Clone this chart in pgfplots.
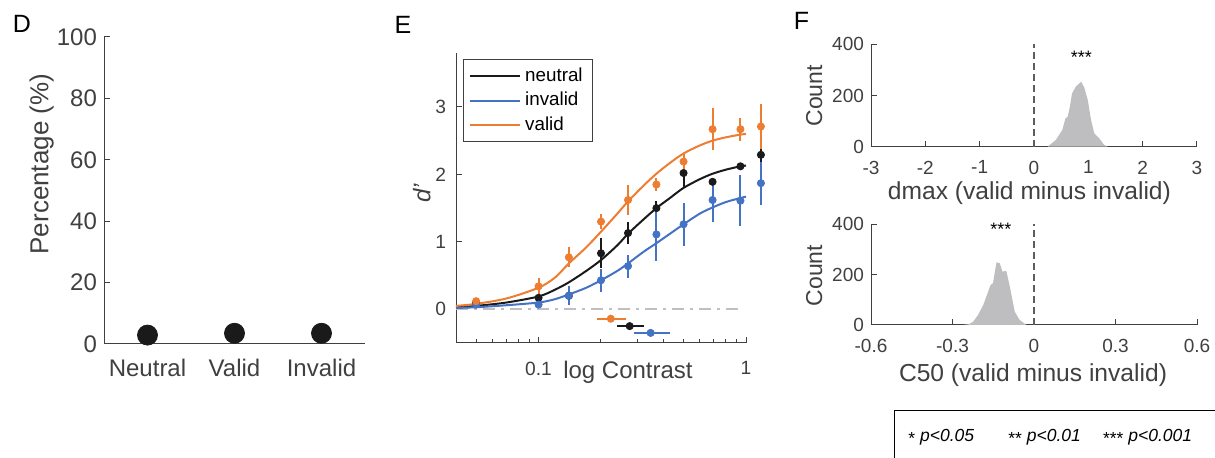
\documentclass[border=0pt]{standalone}
\usepackage{fontspec}
\setmainfont{Liberation Sans}
\usepackage{pgfplots}
\pgfplotsset{compat=1.18}

\definecolor{cvalid}{RGB}{237,125,49}
\definecolor{cinvalid}{RGB}{68,114,196}
\definecolor{cneutral}{RGB}{26,26,26}
\definecolor{histgray}{RGB}{190,190,192}
\definecolor{axgray}{RGB}{64,64,64}

\pgfplotsset{
  matlab/.style={
    scale only axis,
    axis lines*=left,
    axis line style={-, axgray, line width=0.5pt},
    every tick/.style={axgray, line width=0.5pt},
    tick align=inside,
    major tick length=3pt,
    minor tick length=1.8pt,
    ticklabel style={text=axgray},
    label style={text=axgray},
    /pgf/number format/assume math mode=true,
    clip=false,
  },
}

\begin{document}
\begin{tikzpicture}
\path[use as bounding box] (0,0) rectangle (607.5pt,-229pt);

% panel letters
\node[font=\fontsize{12.5}{14}\selectfont] at (11pt,-12pt) {D};
\node[font=\fontsize{12.5}{14}\selectfont] at (201.5pt,-12.5pt) {E};
\node[font=\fontsize{12.5}{14}\selectfont] at (400.75pt,-10.5pt) {F};

% ---------- D ----------
\begin{axis}[matlab,
  at={(52pt,-172pt)}, anchor=south west,
  width=130.5pt, height=153.5pt,
  xmin=0.5, xmax=3.5, ymin=0, ymax=100,
  xtick={1,2,3}, xticklabels={Neutral,Valid,Invalid},
  ytick={0,20,...,100},
  ticklabel style={font=\fontsize{12}{14}\selectfont},
  xticklabel style={yshift=-4pt},
  ylabel={Percentage (\%)},
  ylabel style={font=\fontsize{13}{15}\selectfont, at={(axis description cs:-0.239,0.586)}, anchor=center},
]
\addplot[only marks, mark=*, mark size=5pt, cneutral] coordinates {(1,2.9) (2,3.5) (3,3.5)};
\end{axis}

% ---------- E ----------
\begin{axis}[matlab,
  at={(228pt,-171.5pt)}, anchor=south west,
  width=145pt, height=145pt,
  xmode=log, xmin=0.04, xmax=1, ymin=-0.5, ymax=3.8,
  xtick={0.1,1}, xticklabels={0.1,1},
  minor xtick={0.04,0.05,0.06,0.07,0.08,0.09,0.2,0.3,0.4,0.5,0.6,0.7,0.8,0.9},
  ytick={0,1,2,3},
  ticklabel style={font=\fontsize{9.6}{11}\selectfont},
  xticklabel style={yshift=-5.8pt},
  yticklabel style={xshift=-1.5pt},
  xlabel={log Contrast},
  xlabel style={font=\fontsize{12}{14}\selectfont, at={(axis description cs:0.593,0)}, anchor=base, yshift=-17.7pt},
  ylabel={\textit{d’}},
  ylabel style={font=\fontsize{12}{14}\selectfont, at={(axis description cs:-0.118,0.517)}, anchor=center},
  legend style={at={(0.023,0.979)}, anchor=north west, draw=axgray, line width=0.5pt,
    font=\fontsize{9.4}{11.7}\selectfont, inner xsep=3pt, inner ysep=2pt,
    cells={anchor=west}},
  legend image code/.code={\draw[#1, line width=1pt] (0pt,0pt) -- (25pt,0pt);},
]
\addplot[gray!50, line width=0.8pt, dash pattern=on 6pt off 3pt on 1.5pt off 3pt, forget plot]
  coordinates {(0.04,0) (0.94,0)};

% fitted curves
\addplot[cneutral, line width=1pt, smooth] coordinates {
 (0.04,0.03) (0.05,0.05) (0.07,0.10) (0.1,0.19) (0.12,0.29) (0.14,0.40) (0.17,0.57)
 (0.2,0.73) (0.24,0.95) (0.27,1.12) (0.32,1.33) (0.37,1.50) (0.43,1.65) (0.5,1.80)
 (0.6,1.93) (0.69,2.01) (0.8,2.07) (0.94,2.12) (1,2.13)};
\addlegendentry{neutral}
\addplot[cinvalid, line width=1pt, smooth] coordinates {
 (0.04,0.02) (0.05,0.03) (0.07,0.06) (0.1,0.10) (0.12,0.15) (0.14,0.22) (0.17,0.32)
 (0.2,0.43) (0.24,0.57) (0.27,0.68) (0.32,0.85) (0.37,0.98) (0.43,1.12) (0.5,1.26)
 (0.6,1.42) (0.69,1.51) (0.8,1.59) (0.94,1.65) (1,1.67)};
\addlegendentry{invalid}
\addplot[cvalid, line width=1pt, smooth] coordinates {
 (0.04,0.05) (0.05,0.08) (0.07,0.16) (0.1,0.32) (0.12,0.47) (0.14,0.68) (0.17,0.92)
 (0.2,1.15) (0.24,1.42) (0.27,1.60) (0.32,1.83) (0.37,2.01) (0.43,2.17) (0.5,2.31)
 (0.6,2.43) (0.69,2.50) (0.8,2.55) (0.94,2.59) (1,2.60)};
\addlegendentry{valid}

% data points with error bars
\addplot[forget plot, only marks, mark=*, mark size=1.8pt, cneutral,
  error bars/.cd, y dir=both, y explicit, error mark=none,
  error bar style={line width=1pt, cneutral}] coordinates {
 (0.05,0.10) +- (0,0.02) (0.1,0.17) +- (0,0.04) (0.14,0.20) +- (0,0.05)
 (0.2,0.83) +- (0,0.22) (0.27,1.13) +- (0,0.16) (0.37,1.50) +- (0,0.11)
 (0.5,2.02) +- (0,0.20) (0.69,1.89) +- (0,0.05) (0.94,2.12) +- (0,0.03)
 (1.18,2.29) +- (0,0.16)};
\addplot[forget plot, only marks, mark=*, mark size=1.8pt, cinvalid,
  error bars/.cd, y dir=both, y explicit, error mark=none,
  error bar style={line width=1pt, cinvalid}] coordinates {
 (0.05,0.07) +- (0,0.02) (0.1,0.07) +- (0,0.04) (0.14,0.20) +- (0,0.14)
 (0.2,0.43) +- (0,0.17) (0.27,0.64) +- (0,0.17) (0.37,1.11) +- (0,0.40)
 (0.5,1.26) +- (0,0.32) (0.69,1.62) +- (0,0.32) (0.94,1.61) +- (0,0.38)
 (1.18,1.87) +- (0,0.32)};
\addplot[forget plot, only marks, mark=*, mark size=1.8pt, cvalid,
  error bars/.cd, y dir=both, y explicit, error mark=none,
  error bar style={line width=1pt, cvalid}] coordinates {
 (0.05,0.12) +- (0,0.03) (0.1,0.34) +- (0,0.13) (0.14,0.77) +- (0,0.15)
 (0.2,1.30) +- (0,0.11) (0.27,1.62) +- (0,0.22) (0.37,1.85) +- (0,0.09)
 (0.5,2.19) +- (0,0.12) (0.69,2.67) +- (0,0.31) (0.94,2.67) +- (0,0.17)
 (1.18,2.71) +- (0,0.33)};

% C50 estimates
\addplot[forget plot, cvalid, line width=1pt] coordinates {(0.192,-0.14) (0.263,-0.14)};
\addplot[forget plot, only marks, mark=*, mark size=1.8pt, cvalid] coordinates {(0.223,-0.14)};
\addplot[forget plot, cneutral, line width=1pt] coordinates {(0.24,-0.25) (0.322,-0.25)};
\addplot[forget plot, only marks, mark=*, mark size=1.8pt, cneutral] coordinates {(0.275,-0.25)};
\addplot[forget plot, cinvalid, line width=1pt] coordinates {(0.288,-0.35) (0.43,-0.35)};
\addplot[forget plot, only marks, mark=*, mark size=1.8pt, cinvalid] coordinates {(0.347,-0.35)};
\end{axis}

% ---------- F top ----------
\begin{axis}[matlab,
  at={(435.5pt,-73.35pt)}, anchor=south west,
  width=163pt, height=51.2pt,
  xmin=-3, xmax=3, ymin=0, ymax=400,
  xtick={-3,-2,-1,0,1,2,3}, ytick={0,200,400},
  xticklabels={-3,-2,-1,0,1,2,3},
  ticklabel style={font=\fontsize{9.5}{11}\selectfont},
  xticklabel style={yshift=-3.5pt},
  xlabel={dmax (valid minus invalid)},
  xlabel style={font=\fontsize{12.3}{14}\selectfont, at={(axis description cs:0.486,0)}, anchor=base, yshift=-26.3pt},
  ylabel={Count},
  ylabel style={font=\fontsize{11.5}{13}\selectfont, at={(axis description cs:-0.174,0.497)}, anchor=center},
]
\addplot[fill=histgray, draw=none] coordinates {
 (0.25,0) (0.40,26) (0.52,65) (0.58,111) (0.62,117) (0.66,156) (0.70,208) (0.77,235)
 (0.87,254) (0.93,228) (0.99,182) (1.05,104) (1.11,52) (1.20,33) (1.29,7) (1.36,0)};
\addplot[axgray!85, line width=0.8pt, dash pattern=on 3.5pt off 2pt] coordinates {(0,0) (0,400)};
\node[font=\fontsize{9}{10}\selectfont] at (axis cs:0.87,350) {***};
\end{axis}

% ---------- F bottom ----------
\begin{axis}[matlab,
  at={(435.5pt,-162.5pt)}, anchor=south west,
  width=163pt, height=50.35pt,
  xmin=-0.6, xmax=0.6, ymin=0, ymax=400,
  xtick={-0.6,-0.3,0,0.3,0.6}, xticklabels={-0.6,-0.3,0,0.3,0.6},
  ytick={0,200,400},
  ticklabel style={font=\fontsize{9.5}{11}\selectfont},
  xticklabel style={yshift=-3.5pt},
  xlabel={C50 (valid minus invalid)},
  xlabel style={font=\fontsize{12.3}{14}\selectfont, at={(axis description cs:0.497,0)}, anchor=base, yshift=-28.3pt},
  ylabel={Count},
  ylabel style={font=\fontsize{11.5}{13}\selectfont, at={(axis description cs:-0.174,0.49)}, anchor=center},
]
\addplot[fill=histgray, draw=none] coordinates {
 (-0.261,0) (-0.240,3) (-0.224,13) (-0.206,40) (-0.187,79) (-0.169,132) (-0.160,159)
 (-0.151,166) (-0.144,212) (-0.138,249) (-0.126,245) (-0.116,212) (-0.102,215)
 (-0.089,152) (-0.071,53) (-0.053,20) (-0.028,0)};
\addplot[axgray!85, line width=0.8pt, dash pattern=on 3.5pt off 2pt] coordinates {(0,0) (0,400)};
\node[font=\fontsize{9}{10}\selectfont] at (axis cs:-0.122,380) {***};
\end{axis}

% significance key
\draw[line width=0.5pt] (447pt,-205.35pt) rectangle (620pt,-240pt);
\begin{scope}[every node/.style={anchor=base west, inner sep=0pt, font=\fontsize{8.75}{10}\selectfont\itshape}]
\node at (454pt,-220.85pt) {\raisebox{-0.35ex}{\upshape *} p<0.05};
\node at (504pt,-220.85pt) {\raisebox{-0.35ex}{\upshape **} p<0.01};
\node at (551.35pt,-220.85pt) {\raisebox{-0.35ex}{\upshape ***} p<0.001};
\end{scope}
\end{tikzpicture}
\end{document}
